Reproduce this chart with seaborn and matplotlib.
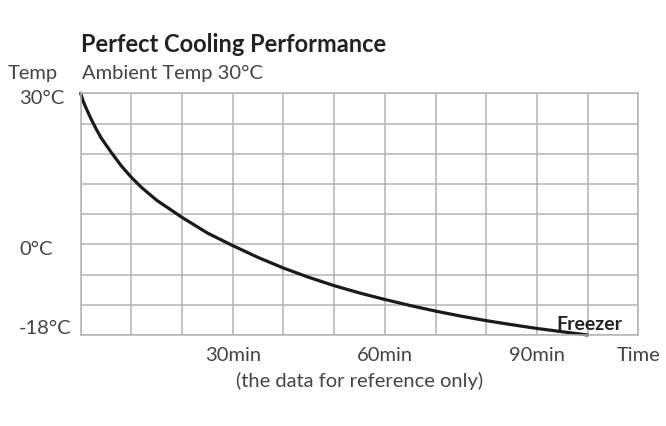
import matplotlib
matplotlib.use("Agg")
import matplotlib.pyplot as plt
import seaborn as sns
import pandas as pd

# cooling curve (minutes, degrees C)
minutes = [0, 0.5, 1, 2, 3, 4, 6, 8, 10, 12, 15, 20, 25, 30, 35, 40, 45, 50,
           55, 60, 65, 70, 75, 80, 85, 90, 95, 100]
temps = [30, 28.4, 27.2, 25.0, 23.0, 21.2, 18.3, 15.6, 13.3, 11.3, 8.75, 5.35, 2.25, -0.25,
         -2.6, -4.7, -6.55, -8.2, -9.65, -10.95, -12.15, -13.25, -14.25, -15.15, -15.95,
         -16.7, -17.35, -18]

x_ticks = list(range(0, 111, 10))
x_labels = ["", "", "", "30min", "", "", "60min", "", "", "90min", "", "Time"]
y_ticks = list(range(-18, 31, 6))
# where the three temperature labels sit (a bit inside the grid top/bottom, like the original)
y_label_text = ["30°C", "0°C", "-18°C"]
y_label_pos = [29.2, -0.9, -16.6]

df = pd.DataFrame({"minutes": minutes, "temp": temps})

sns.set_style("white")
plt.rcParams["font.family"] = ["Lato", "DejaVu Sans"]

W, H = 666, 427
fig = plt.figure(figsize=(W / 100, H / 100), dpi=100)
ax = fig.add_axes([80.7 / W, (H - 336) / H, 557.6 / W, 241.7 / H])

grid_c = "#b4b4b4"
text_c = "#444444"

sns.lineplot(data=df, x="minutes", y="temp", ax=ax, color="#1a1a1a", linewidth=2.3, clip_on=False)

ax.set_xlim(0, 110)
ax.set_ylim(-18, 30)
ax.set_xticks(x_ticks)
ax.set_xticklabels(x_labels)
ax.set_yticks(y_ticks)
ax.set_yticklabels([])
ax.grid(True, color=grid_c, linewidth=1.1)
for s in ax.spines.values():
    s.set_color(grid_c)
    s.set_linewidth(1.1)
ax.tick_params(axis="x", length=0, pad=8, labelsize=14.5, labelcolor=text_c)
ax.tick_params(axis="y", length=0)
ax.set_xlabel("")
ax.set_ylabel("")

for lab, pos in zip(y_label_text, y_label_pos):
    ax.text((19 - 80.7) / 557.6, pos, lab, transform=ax.get_yaxis_transform(),
            ha="left", va="center", fontsize=14.5, color=text_c)

ax.text(100.3, -16.8, "Freezer", ha="center", va="baseline", fontsize=14,
        fontweight="bold", color="#222222")

fig.text(81 / W, 1 - 45 / H, "Perfect Cooling Performance", ha="left", va="center",
         fontsize=17, fontweight="bold", color="#222222")
fig.text(8 / W, 1 - 73 / H, "Temp", ha="left", va="center", fontsize=14.5, color=text_c)
fig.text(82 / W, 1 - 73 / H, "Ambient Temp 30°C", ha="left", va="center", fontsize=14.5,
         color=text_c)
fig.text(359.5 / W, 1 - 381 / H, "(the data for reference only)", ha="center", va="center",
         fontsize=14.5, color=text_c)

fig.savefig("out.png", dpi=100)
